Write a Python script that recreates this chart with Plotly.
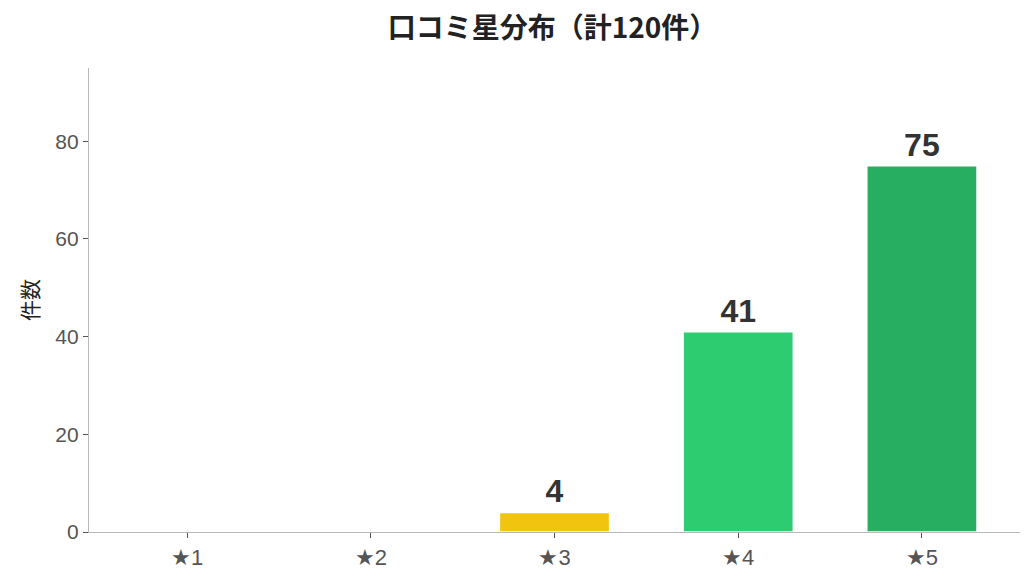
import plotly.graph_objects as go

# review star distribution
stars = ["★1", "★2", "★3", "★4", "★5"]
counts = [0, 0, 4, 41, 75]
colors = ["#e74c3c", "#e67e22", "#f1c40f", "#2ecc71", "#27ae60"]
total = sum(counts)

fig = go.Figure()
fig.add_trace(go.Bar(
    x=stars, y=counts,
    marker=dict(color=colors, line=dict(color="white", width=1.5)),
    text=[str(c) if c > 0 else "" for c in counts],
    textposition="outside",
    textfont=dict(size=32, color="#333333", family="Liberation Sans", weight="bold"),
    cliponaxis=False,
))

fig.update_layout(
    title=dict(text=f"<b>口コミ星分布（計{total}件）</b>", x=0.526, xanchor="center",
               y=0.965, yanchor="middle",
               font=dict(size=28, color="#222222", family="Noto Sans CJK JP")),
    width=1035, height=582,
    margin=dict(l=81, r=23, t=60, b=58),
    plot_bgcolor="white", paper_bgcolor="white",
    font=dict(family="Liberation Sans", size=20, color="#555555"),
    bargap=0.4,
    showlegend=False,
)
fig.update_xaxes(range=[-0.534, 4.534], showline=True, linecolor="#b8b8b8", linewidth=1.2,
                 ticks="outside", ticklen=5, tickcolor="#555555", showgrid=False,
                 tickfont=dict(size=22, color="#555555"))
fig.update_yaxes(range=[0, 95], showline=True, linecolor="#b8b8b8", linewidth=1.2,
                 ticks="outside", ticklen=5, tickcolor="#555555", showgrid=False,
                 zeroline=False, dtick=20, tickfont=dict(size=21, color="#555555"),
                 title=dict(text="件数", font=dict(size=21, color="#222222",
                                                 family="Noto Sans CJK JP"), standoff=10))

fig.write_html("out.html")
